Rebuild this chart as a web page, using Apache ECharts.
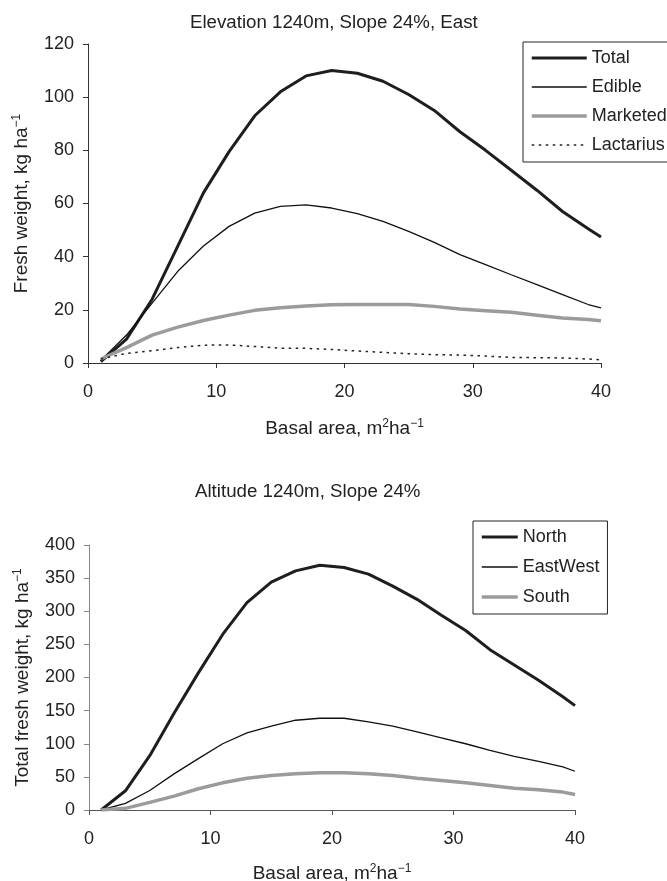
<!DOCTYPE html>
<html>
<head>
<meta charset="utf-8">
<script src="https://cdn.jsdelivr.net/npm/echarts@6/dist/echarts.min.js"></script>
<style>
html,body{margin:0;padding:0;background:#fff;}
#chart{width:667px;height:881px;}
</style>
</head>
<body>
<div id="chart"></div>
<script>
// ---- data ----
const basalArea = [1,3,5,7,9,11,13,15,17,19,21,23,25,27,29,31,33,35,37,39,40];

// top chart (Elevation 1240m, Slope 24%, East)
const totalVals     = [0.5,9,24,44,64,79.5,93,102,108,110,109,106,101,95,87,80,72.5,65,57,50.5,47.4];
const edibleVals    = [1,10.5,22.5,34.5,44,51.4,56.4,58.9,59.5,58.3,56.2,53.3,49.5,45.4,40.8,37,33.2,29.5,25.7,22,20.7];
const marketedVals  = [1.5,5.8,10.5,13.5,16,18,19.8,20.8,21.4,21.9,22,22,22,21.3,20.3,19.7,19.1,18,16.9,16.4,15.9];
const lactariusVals = [1.5,3.6,4.6,5.8,6.7,6.8,6.2,5.6,5.5,5.1,4.5,4,3.5,3.1,3,2.6,2.1,2,1.9,1.5,1.2];

// bottom chart (Altitude 1240m, Slope 24%)
const northVals    = [0,29,82,146,207,265,313,344,361,369.5,366,356,338,318,294,271,242,219,196,171,157.5];
const eastWestVals = [0,10,29.5,54.5,77.5,100,116.5,126.5,135.5,138.5,138.5,133,126.5,118,109,100,90,81,73.5,65,58.5];
const southVals    = [0,2.5,11.5,21,32,41,48,52,54.7,56.2,56.2,54.7,52,48,44.5,41,37,33,30.5,27,23.5];

const xTicks = [0,10,20,30,40];
const topYTicks = [0,20,40,60,80,100,120];
const botYTicks = [0,50,100,150,200,250,300,350,400];

const titles = ['Elevation 1240m, Slope 24%, East', 'Altitude 1240m, Slope 24%'];
const yNames = ['Fresh weight, kg ha{sup|\u22121}', 'Total fresh weight, kg ha{sup|\u22121}'];
const xName = 'Basal area, m{sup|2}ha{sup|\u22121}';
const topLegend = ['Total', 'Edible', 'Marketed', 'Lactarius'];
const botLegend = ['North', 'EastWest', 'South'];

// ---- chart ----
const FONT = 'Liberation Sans, Arial, Helvetica, sans-serif';
const TXT = '#222';
const pairs = v => basalArea.map((x, i) => [x, v[i]]);

const nameStyle = {
  fontFamily: FONT, fontSize: 19, color: TXT, lineHeight: 22,
  rich: { sup: { fontFamily: FONT, fontSize: 12, color: TXT, verticalAlign: 'top', lineHeight: 12 } }
};

function xAxis(gridIndex, lineColor, gap) {
  return {
    type: 'value', gridIndex, min: xTicks[0], max: xTicks[xTicks.length - 1], interval: 10,
    name: xName, nameLocation: 'middle', nameGap: gap, nameTextStyle: nameStyle,
    axisLine: { show: true, onZero: false, lineStyle: { color: lineColor, width: 1 } },
    axisTick: { show: true, inside: false, length: 5, lineStyle: { color: lineColor } },
    axisLabel: { fontFamily: FONT, fontSize: 18, color: TXT, margin: 20 },
    splitLine: { show: false }
  };
}
function yAxis(gridIndex, ticks, name, lineColor) {
  return {
    type: 'value', gridIndex, min: ticks[0], max: ticks[ticks.length - 1], interval: ticks[1] - ticks[0],
    name, nameLocation: 'middle', nameGap: 47, nameTextStyle: nameStyle,
    axisLine: { show: true, lineStyle: { color: lineColor, width: 1 } },
    axisTick: { show: true, inside: false, length: 5, lineStyle: { color: lineColor } },
    axisLabel: { fontFamily: FONT, fontSize: 18, color: TXT, margin: 14 },
    splitLine: { show: false }
  };
}
const styles = {
  Total:     { color: '#1e1e1e', width: 3 },
  Edible:    { color: '#111',    width: 1.3 },
  Marketed:  { color: '#9b9b9b', width: 3.5 },
  Lactarius: { color: '#222',    width: 1.5, type: [2.5, 4.5] },
  North:     { color: '#1e1e1e', width: 3 },
  EastWest:  { color: '#111',    width: 1.3 },
  South:     { color: '#9b9b9b', width: 3.5 }
};
function line(name, data, xi) {
  const s = styles[name];
  return {
    name, type: 'line', xAxisIndex: xi, yAxisIndex: xi, data: pairs(data),
    symbol: 'none', showSymbol: false, smooth: false, animation: false,
    lineStyle: { color: s.color, width: s.width, type: s.type || 'solid' }, itemStyle: { color: s.color }
  };
}
const legendData = names => names.map(n => ({
  name: n,
  lineStyle: { color: styles[n].color, width: styles[n].width, type: styles[n].type || 'solid' },
  itemStyle: { color: 'transparent', borderWidth: 0, opacity: 0 }
}));

const legendText = { fontFamily: FONT, fontSize: 18, color: TXT, lineHeight: 18 };

const option = {
  backgroundColor: '#fff',
  animation: false,
  title: [
    { text: titles[0], left: 185, top: 8, textStyle: { fontFamily: FONT, fontSize: 18.7, fontWeight: 'normal', color: TXT } },
    { text: titles[1], left: 190, top: 477, textStyle: { fontFamily: FONT, fontSize: 18.7, fontWeight: 'normal', color: TXT } }
  ],
  legend: [
    {
      data: legendData(topLegend),
      orient: 'vertical', left: 523, top: 42, itemWidth: 55, itemHeight: 14, itemGap: 11,
      padding: [7, 12, 8, 7], borderColor: '#222', borderWidth: 1, textStyle: legendText,
      itemStyle: { color: 'transparent', borderWidth: 0, opacity: 0 },
      selectedMode: false
    },
    {
      data: legendData(botLegend),
      orient: 'vertical', left: 473, top: 521, itemWidth: 36, itemHeight: 14, itemGap: 12,
      padding: [7, 8, 8, 7], borderColor: '#222', borderWidth: 1, textStyle: legendText,
      itemStyle: { color: 'transparent', borderWidth: 0, opacity: 0 },
      selectedMode: false
    }
  ],
  grid: [
    { left: 88, top: 44, width: 513, height: 319, containLabel: false, outerBoundsMode: 'none' },
    { left: 89, top: 545, width: 486, height: 265, containLabel: false, outerBoundsMode: 'none' }
  ],
  xAxis: [xAxis(0, '#333', 55), xAxis(1, '#555', 53)],
  yAxis: [yAxis(0, topYTicks, yNames[0], '#333'), yAxis(1, botYTicks, yNames[1], '#888')],
  series: [
    line('Total', totalVals, 0),
    line('Edible', edibleVals, 0),
    line('Marketed', marketedVals, 0),
    line('Lactarius', lactariusVals, 0),
    line('North', northVals, 1),
    line('EastWest', eastWestVals, 1),
    line('South', southVals, 1)
  ]
};

const chart = echarts.init(document.getElementById('chart'), null, { renderer: 'canvas' });
chart.setOption(option);
</script>
</body>
</html>
